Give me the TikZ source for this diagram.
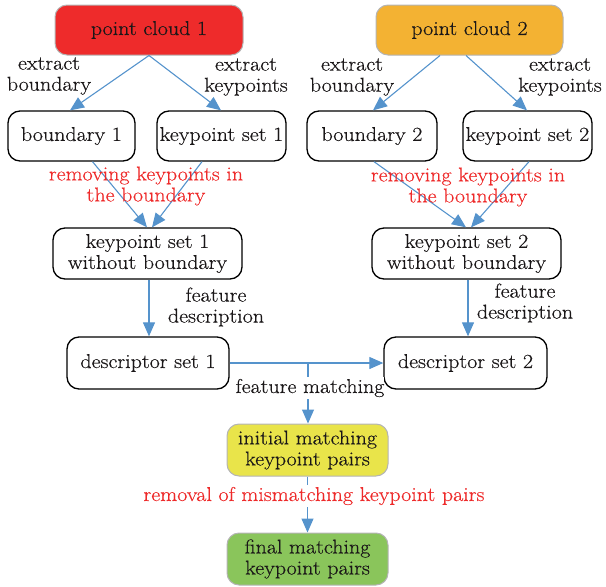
\documentclass[tikz,border=0pt]{standalone}
\usepackage{fontspec}
\setmainfont{Latin Modern Roman}[FakeStretch=1.1, FakeBold=0.4]
\usetikzlibrary{arrows.meta}
\definecolor{arr}{HTML}{5593CC}
\definecolor{redtxt}{HTML}{EE2A2A}
\definecolor{txt}{HTML}{1A1718}
\definecolor{fred}{HTML}{EE2B2B}
\definecolor{forange}{HTML}{F3B233}
\definecolor{fyellow}{HTML}{E9E44A}
\definecolor{fgreen}{HTML}{8AC55B}
\definecolor{cborder}{HTML}{B4B4B4}
\begin{document}
\begin{tikzpicture}[x=1pt,y=-1pt,
  box/.style={draw=black, line width=1.3pt, rounded corners=12pt, fill=white,
    align=center, inner sep=0pt, text=txt, font=\fontsize{20}{21}\selectfont},
  cbox/.style={box, draw=cborder, line width=1pt},
  conn/.style={draw=arr, line width=1.1pt, -{Triangle[length=14pt,width=12pt]}},
  lbl/.style={align=center, inner sep=0pt, text=txt, font=\fontsize{20}{21}\selectfont},
  rlbl/.style={lbl, text=redtxt}]
\useasboundingbox (0,0) rectangle (606,587);
% nodes
\node[cbox, fill=fred, minimum width=188pt, minimum height=50pt] (pc1) at (149,30) {point cloud 1};
\node[cbox, fill=forange, minimum width=187pt, minimum height=50pt] (pc2) at (469.5,30) {point cloud 2};
\node[box, minimum width=127pt, minimum height=50pt] (b1) at (71.5,136) {boundary 1};
\node[box, minimum width=129pt, minimum height=50pt] (ks1) at (221.5,136) {keypoint set 1};
\node[box, minimum width=130pt, minimum height=50pt] (b2) at (372,136) {boundary 2};
\node[box, minimum width=129pt, minimum height=50pt] (ks2) at (527.5,136) {keypoint set 2};
\node[box, minimum width=189pt, minimum height=51pt] (kw1) at (147.5,253.5) {keypoint set 1\\without boundary};
\node[box, minimum width=189pt, minimum height=51pt] (kw2) at (466.5,253.5) {keypoint set 2\\without boundary};
\node[box, minimum width=162pt, minimum height=52pt] (ds1) at (148,363) {descriptor set 1};
\node[box, minimum width=163pt, minimum height=52pt] (ds2) at (465.5,363) {descriptor set 2};
\node[cbox, fill=fyellow, minimum width=161pt, minimum height=52pt] (init) at (307.5,450) {initial matching\\keypoint pairs};
\node[cbox, fill=fgreen, minimum width=161pt, minimum height=52pt] (fin) at (307.5,559) {final matching\\keypoint pairs};
% connectors
\draw[conn] (pc1.south) -- ([xshift=-1.5pt]b1.north);
\draw[conn] (pc1.south) -- ([xshift=-0.5pt]ks1.north);
\draw[conn] ([xshift=-29.5pt]pc2.south) -- ([xshift=1pt]b2.north);
\draw[conn] ([xshift=-3.5pt]pc2.south) -- ([xshift=-0.5pt]ks2.north);
\draw[conn] ([xshift=21pt]b1.south) -- ([xshift=-0.5pt]kw1.north);
\draw[conn] ([xshift=-19.5pt]ks1.south) -- ([xshift=4.5pt]kw1.north);
\draw[conn] ([xshift=2pt]b2.south) -- ([xshift=-0.5pt]kw2.north);
\draw[conn] ([xshift=1.5pt]ks2.south) -- ([xshift=4.5pt]kw2.north);
\draw[conn] ([xshift=1.5pt]kw1.south) -- ([xshift=1.5pt]kw1.south |- ds1.north);
\draw[conn] ([xshift=1.5pt]kw2.south) -- ([xshift=1.5pt]kw2.south |- ds2.north);
\draw[conn] (ds1.east) -- (ds2.west);
\coordinate (m) at (308,363);
\draw[conn] (m) -- (m |- init.north);
\draw[conn] (init.south) -- (fin.north);
% labels
\node[lbl] (eb1) at (49,76) {extract\\boundary};
\node[lbl] (ek1) at (246,77) {extract\\keypoints};
\node[lbl] (eb2) at (352,77) {extract\\boundary};
\node[lbl] (ek2) at (560,77) {extract\\keypoints};
\node[rlbl] (rk1) at (146,186) {removing keypoints in\\the boundary};
\node[rlbl] (rk2) at (468,187) {removing keypoints in\\the boundary};
\node[lbl] (fd1) at (216,307) {feature\\description};
\node[lbl] (fd2) at (525,303) {feature\\description};
\node[lbl, fill=white, inner ysep=2pt] (fm) at (310,388) {feature matching};
\node[rlbl, fill=white, inner ysep=2pt] (rm) at (314,496) {removal of mismatching keypoint pairs};
\end{tikzpicture}
\end{document}
